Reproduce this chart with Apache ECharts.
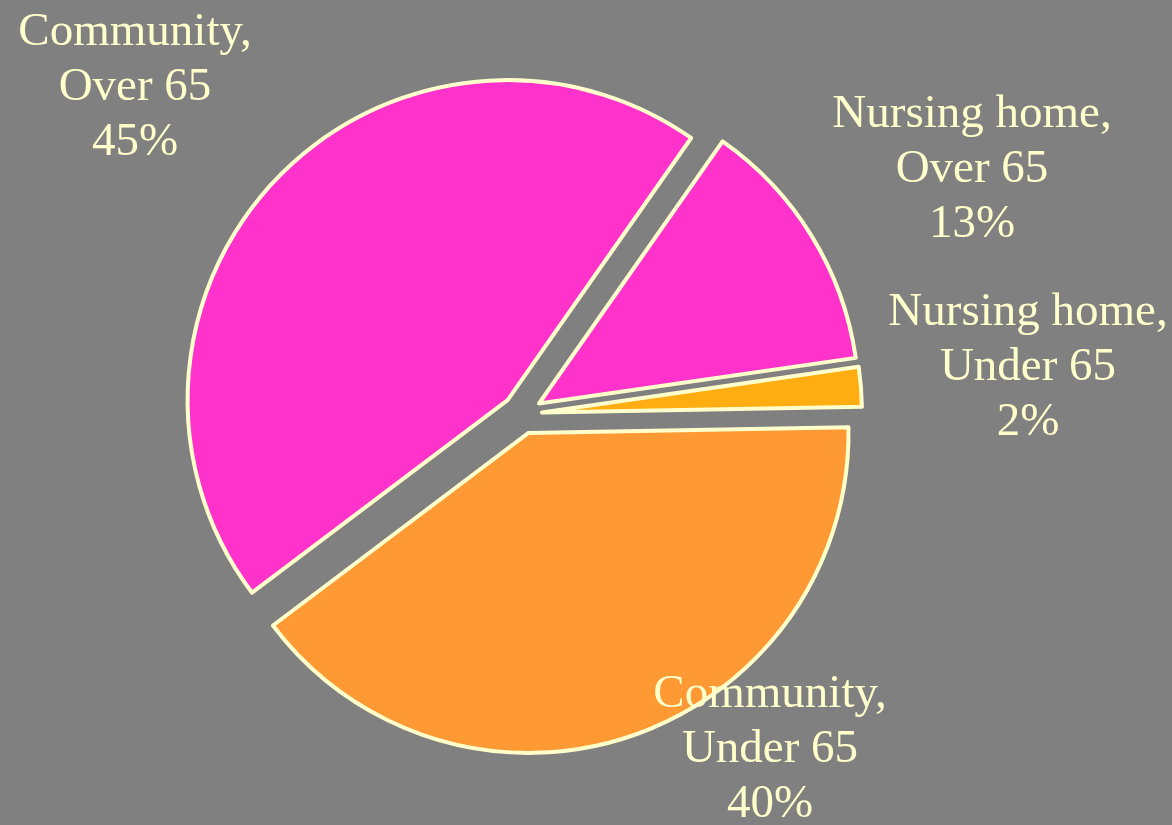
<!DOCTYPE html>
<html>
<head>
<meta charset="utf-8">
<script src="https://cdn.jsdelivr.net/npm/echarts@6/dist/echarts.min.js"></script>
<style>
  html, body { margin: 0; padding: 0; background: #808080; }
  #chart { width: 1172px; height: 825px; }
</style>
</head>
<body>
<div id="chart"></div>
<script>
// slice names, in clockwise order from the start angle
const categories = [
  "Nursing home,\nOver 65",
  "Nursing home,\nUnder 65",
  "Community,\nUnder 65",
  "Community,\nOver 65",
];
const shares = [13, 2, 40, 45];
const sliceColors = ["#ff33cc", "#ffad10", "#ff9933", "#ff33cc"];
// label centres (px) for each slice
const labelPos = [
  [972, 170],
  [1028, 368],
  [770, 750],
  [135, 88],
];

const START_ANGLE = 55;
const EXPLODE = 20;

// the selected (exploded) offset is added to labels after layout, so take it back out
function explodeShift(idx) {
  const total = shares.reduce(function (a, b) { return a + b; }, 0);
  let before = 0;
  for (let i = 0; i < idx; i++) before += shares[i];
  const mid = (START_ANGLE - 360 * (before + shares[idx] / 2) / total) * Math.PI / 180;
  return [EXPLODE * Math.cos(mid), -EXPLODE * Math.sin(mid)];
}

const chart = echarts.init(document.getElementById("chart"));

const option = {
  backgroundColor: "#808080",
  animation: false,
  series: [
    {
      type: "pie",
      center: [522, 414],
      radius: [0, 320],
      startAngle: START_ANGLE,
      clockwise: true,
      selectedMode: "multiple",
      selectedOffset: EXPLODE,
      avoidLabelOverlap: false,
      silent: true,
      itemStyle: {
        borderColor: "#ffffcc",
        borderWidth: 4,
      },
      label: {
        show: true,
        position: "outside",
        formatter: function (p) {
          const lines = p.name.split("\n").concat([p.value + "%"]);
          return lines.map(function (s) { return "{t|" + s + "}"; }).join("\n");
        },
        rich: {
          t: {
            width: 320,
            align: "center",
            color: "#ffffcc",
            fontFamily: "Liberation Serif, Times New Roman, serif",
            fontSize: 47,
            lineHeight: 55,
          },
        },
      },
      labelLine: { show: false },
      labelLayout: function (params) {
        const p = labelPos[params.dataIndex];
        const r = params.labelRect;
        const s = explodeShift(params.dataIndex);
        return {
          dx: p[0] - (r.x + r.width / 2) - s[0],
          dy: p[1] - (r.y + r.height / 2) - s[1],
        };
      },
      data: categories.map(function (name, i) {
        return {
          name: name,
          value: shares[i],
          selected: true,
          itemStyle: { color: sliceColors[i] },
        };
      }),
    },
  ],
};

chart.setOption(option);
</script>
</body>
</html>
